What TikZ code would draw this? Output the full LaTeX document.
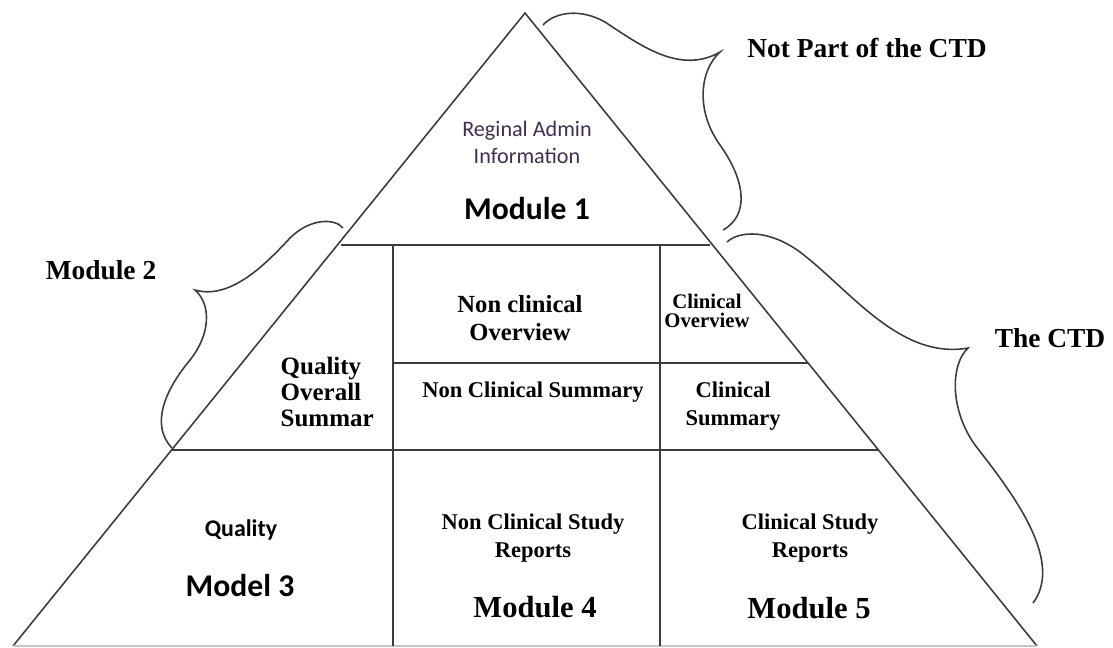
\documentclass[tikz,border=0pt]{standalone}
\usepackage{fontspec}
\setmainfont{Liberation Serif}
\newfontfamily\calibri{Carlito}
\usetikzlibrary{calc}

\definecolor{edgegray}{RGB}{60,60,60}
\definecolor{admintext}{RGB}{62,48,78}

\tikzset{
	edge/.style={color=edgegray, line width=0.45pt},
	grid/.style={color=edgegray, line width=0.65pt},
	brace/.style={color=edgegray, line width=0.45pt},
	cell/.style={font=\bfseries\fontsize{6.4}{8.1}\selectfont, align=center, inner sep=0pt},
	tag/.style={font=\bfseries\fontsize{7.8}{9}\selectfont, inner sep=0pt},
	module/.style={font=\bfseries\fontsize{8.7}{10}\selectfont, inner sep=0pt},
	sansmodule/.style={font=\calibri\bfseries\fontsize{9}{10}\selectfont, inner sep=0pt}
}

\begin{document}
\begin{tikzpicture}[x=0.01cm, y=-0.01cm]

	\useasboundingbox (0,0) rectangle (1113,647);

	\def\xa{393}
	\def\xb{660}
	\def\ya{245}
	\def\yb{363}
	\def\yc{450}
	\def\yd{646}

	%pyramid
	\coordinate (apex) at (525,13);
	\coordinate (left) at (13,\yd);
	\coordinate (right) at (1037,\yd);
	\draw[edge] (left) -- (apex) -- (right);
	\draw[color=gray!45, line width=0.45pt] (left) -- (right);

	%rows and columns
	\draw[grid] (341,\ya) -- (710,\ya);
	\draw[grid] (\xa,\yb) -- (808,\yb);
	\draw[grid] (171,\yc) -- (879,\yc);
	\draw[grid] (\xa,\ya) -- (\xa,\yd);
	\draw[grid] (\xb,\ya) -- (\xb,\yd);

	%braces
	\draw[brace] (343,228) .. controls (335,218) and (310,218) .. (290,238)
		.. controls (265,265) and (230,300) .. (195,290)
		.. controls (212,305) and (210,335) .. (190,360)
		.. controls (165,390) and (150,425) .. (172,448);
	\draw[brace] (543,25) .. controls (555,12) and (580,8) .. (605,22)
		.. controls (640,45) and (680,75) .. (720,52)
		.. controls (700,70) and (695,110) .. (720,145)
		.. controls (745,180) and (750,215) .. (723,230);
	\draw[brace] (727,242) .. controls (740,230) and (770,230) .. (800,252)
		.. controls (850,290) and (900,360) .. (968,348)
		.. controls (950,365) and (950,410) .. (975,445)
		.. controls (1010,490) and (1065,560) .. (1033,603);

	%module 1
	\node[font=\calibri\fontsize{6.3}{7.7}\selectfont, color=admintext, align=center, inner sep=0pt] (admin) at (527,142) {Reginal Admin\\Information};
	\node[sansmodule] (mod1) at (527,208) {Module 1};

	%module 2
	\node[cell, font=\bfseries\fontsize{7.1}{7.3}\selectfont, align=left, anchor=west] (qos) at (280,392) {Quality\\Overall\\Summar};
	\node[cell, font=\bfseries\fontsize{7}{8.1}\selectfont] (ncover) at (520,318) {Non clinical\\Overview};
	\node[cell] (ncsum) at (533,392) {Non Clinical Summary};
	\node[cell, font=\bfseries\fontsize{5.9}{5.2}\selectfont] (cover) at (707,311) {Clinical\\Overview};
	\node[cell] (csum) at (733,406) {Clinical\\Summary};

	%modules 3 to 5
	\node[font=\calibri\bfseries\fontsize{6.8}{8}\selectfont, inner sep=0pt] (qual) at (241,530) {Quality};
	\node[sansmodule] (mod3) at (240,585) {Model 3};
	\node[cell] (ncstudy) at (533,538) {Non Clinical Study\\Reports};
	\node[module] (mod4) at (535,607) {Module 4};
	\node[cell] (cstudy) at (810,538) {Clinical Study\\Reports};
	\node[module] (mod5) at (809,608) {Module 5};

	%side labels
	\node[tag] (notctd) at (867,48) {Not Part of the CTD};
	\node[tag] (mod2) at (101,270) {Module 2};
	\node[tag] (ctd) at (1050,338) {The CTD};

\end{tikzpicture}
\end{document}
